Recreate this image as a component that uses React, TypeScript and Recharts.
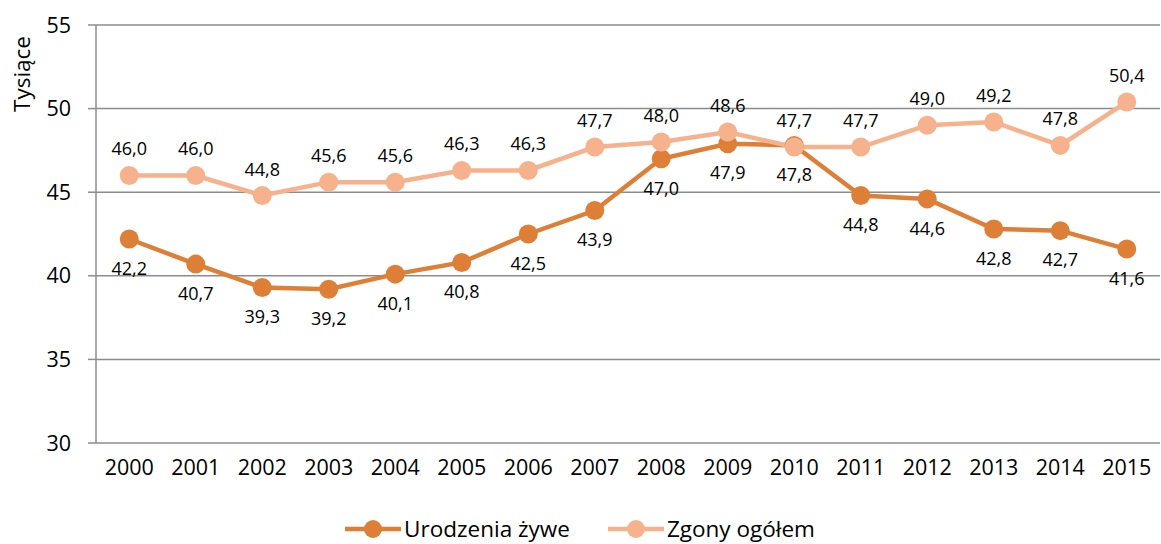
import React from "react";
import {
  LineChart,
  Line,
  XAxis,
  YAxis,
  CartesianGrid,
  Legend,
  LabelList,
} from "recharts";

const years = [
  "2000", "2001", "2002", "2003", "2004", "2005", "2006", "2007",
  "2008", "2009", "2010", "2011", "2012", "2013", "2014", "2015",
];
const urodzenia = [
  42.2, 40.7, 39.3, 39.2, 40.1, 40.8, 42.5, 43.9,
  47.0, 47.9, 47.8, 44.8, 44.6, 42.8, 42.7, 41.6,
];
const zgony = [
  46.0, 46.0, 44.8, 45.6, 45.6, 46.3, 46.3, 47.7,
  48.0, 48.6, 47.7, 47.7, 49.0, 49.2, 47.8, 50.4,
];
const yTicks = [30, 35, 40, 45, 50, 55];

const DARK = "#DE7F38";
const LIGHT = "#F6B28C";
const GRID = "#8C8C8C";
const FONT = "'Open Sans', sans-serif";

const data = years.map((y, i) => ({
  i,
  year: y,
  urodzenia: urodzenia[i],
  zgony: zgony[i],
}));

// tick marks sit between categories, labels on them
const sepTicks = years.map((_, i) => i - 0.5).concat([years.length - 0.5]);
const labelTicks = years.map((_, i) => i);

const fmt = (v: any) => Number(v).toFixed(1).replace(".", ",");

const LegendContent = () => {
  const items = [
    { name: "Urodzenia żywe", color: DARK },
    { name: "Zgony ogółem", color: LIGHT },
  ];
  return (
    <div
      style={{
        display: "flex",
        justifyContent: "center",
        gap: 38,
        paddingTop: 30,
        fontFamily: FONT,
        fontSize: 22.5,
        color: "#000",
      }}
    >
      {items.map((it) => (
        <div key={it.name} style={{ display: "flex", alignItems: "center" }}>
          <svg width={56} height={22} style={{ marginRight: 3 }}>
            <line x1={0} y1={11} x2={56} y2={11} stroke={it.color} strokeWidth={4.5} />
            <circle cx={28} cy={11} r={9} fill={it.color} />
          </svg>
          <span>{it.name}</span>
        </div>
      ))}
    </div>
  );
};

export default function App() {
  return (
    <div style={{ position: "absolute", left: 0, top: 0, background: "#fff" }}>
      <LineChart
        width={1161}
        height={544}
        data={data}
        margin={{ top: 25, right: 1, bottom: 0, left: 0 }}
      >
        <CartesianGrid vertical={false} stroke={GRID} strokeWidth={1.5} />
        <XAxis
          xAxisId="sep"
          type="number"
          dataKey="i"
          domain={[-0.5, 15.5]}
          ticks={sepTicks}
          tickFormatter={() => ""}
          stroke={GRID}
          strokeWidth={1.5}
          tickSize={7}
          height={0}
        />
        <XAxis
          xAxisId="lab"
          type="number"
          dataKey="i"
          domain={[-0.5, 15.5]}
          ticks={labelTicks}
          tickFormatter={(v) => years[v]}
          axisLine={false}
          tickLine={false}
          tickMargin={11}
          height={40}
          tick={{ fill: "#000", fontSize: 21.5, fontFamily: FONT }}
        />
        <YAxis
          domain={[30, 55]}
          ticks={yTicks}
          width={96}
          stroke={GRID}
          strokeWidth={1.5}
          tickSize={8}
          tickMargin={17}
          tick={{ fill: "#000", fontSize: 21.5, fontFamily: FONT }}
          label={{
            content: () => (
              <text
                x={22}
                y={74}
                dy={8}
                transform="rotate(-90 22 74)"
                textAnchor="middle"
                fontFamily={FONT}
                fontSize={22.5}
                fill="#000"
              >
                Tysiące
              </text>
            ),
          }}
        />
        <Legend verticalAlign="bottom" height={61} content={<LegendContent />} />
        <Line
          xAxisId="sep"
          dataKey="urodzenia"
          name="Urodzenia żywe"
          stroke={DARK}
          strokeWidth={4.5}
          dot={{ r: 9.5, fill: DARK, stroke: DARK, strokeWidth: 0 }}
          isAnimationActive={false}
        >
          <LabelList
            dataKey="urodzenia"
            position="bottom"
            offset={23}
            formatter={fmt}
            style={{ fill: "#000", fontSize: 18, fontFamily: FONT }}
          />
        </Line>
        <Line
          xAxisId="lab"
          dataKey="zgony"
          name="Zgony ogółem"
          stroke={LIGHT}
          strokeWidth={4.5}
          dot={{ r: 9.5, fill: LIGHT, stroke: LIGHT, strokeWidth: 0 }}
          isAnimationActive={false}
        >
          <LabelList
            dataKey="zgony"
            position="top"
            offset={20}
            formatter={fmt}
            style={{ fill: "#000", fontSize: 18, fontFamily: FONT }}
          />
        </Line>
      </LineChart>
    </div>
  );
}
